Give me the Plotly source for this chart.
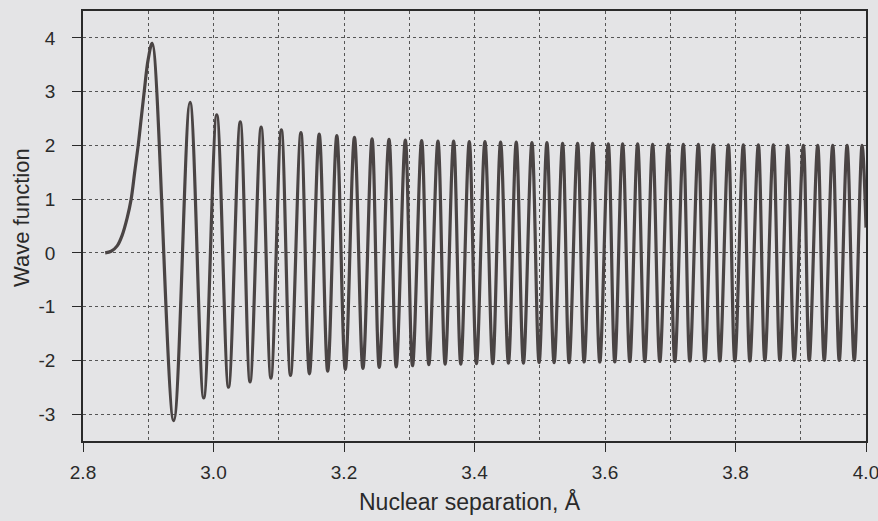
import plotly.graph_objects as go

# Initial rise of the wave function
rise_x = [2.834, 2.8432, 2.8524, 2.8601, 2.8677, 2.8738, 2.8792, 2.8846, 2.8892, 2.8938, 2.8999]
rise_y = [0.0, 0.03, 0.13, 0.33, 0.65, 1.0, 1.5, 2.0, 2.5, 3.0, 3.6]

# Maxima positions and values
peak_x = [2.906, 2.964, 3.005, 3.041, 3.073, 3.104, 3.134, 3.162, 3.189, 3.216,
          3.243, 3.269, 3.294, 3.319, 3.344, 3.368, 3.392, 3.416, 3.440, 3.464,
          3.488, 3.511, 3.535, 3.558, 3.581, 3.605, 3.627, 3.650, 3.673, 3.697,
          3.720, 3.743, 3.766, 3.789, 3.812, 3.835, 3.858, 3.880, 3.904, 3.926,
          3.949, 3.971, 3.994]
peak_y = [3.9, 2.8, 2.57, 2.44, 2.34, 2.29, 2.24, 2.21, 2.18, 2.15,
          2.12, 2.11, 2.10, 2.09, 2.08, 2.08, 2.07, 2.07, 2.06, 2.06,
          2.05, 2.05, 2.04, 2.04, 2.04, 2.03, 2.03, 2.03, 2.02, 2.02,
          2.02, 2.02, 2.01, 2.01, 2.01, 2.01, 2.01, 2.0, 2.0, 2.0,
          2.0, 2.0, 2.0]

# Minima positions and values
trough_x = [2.939, 2.985, 3.023, 3.056, 3.088, 3.118, 3.147, 3.175, 3.202, 3.229,
            3.254, 3.280, 3.305, 3.330, 3.355, 3.379, 3.403, 3.428, 3.452, 3.475,
            3.499, 3.522, 3.545, 3.568, 3.592, 3.615, 3.638, 3.661, 3.684, 3.707,
            3.730, 3.753, 3.776, 3.799, 3.822, 3.845, 3.868, 3.890, 3.913, 3.936,
            3.959, 3.982]
trough_y = [-3.12, -2.7, -2.50, -2.40, -2.33, -2.28, -2.25, -2.20, -2.17, -2.15,
            -2.13, -2.12, -2.10, -2.08, -2.07, -2.07, -2.06, -2.06, -2.05, -2.05,
            -2.04, -2.04, -2.04, -2.03, -2.03, -2.03, -2.02, -2.02, -2.02, -2.02,
            -2.01, -2.01, -2.01, -2.01, -2.01, -2.0, -2.0, -2.0, -2.0, -2.0,
            -2.0, -2.0]

end_x = [4.0]
end_y = [0.47]

x_ticks = [2.8, 3.0, 3.2, 3.4, 3.6, 3.8, 4.0]
x_tick_text = ["2.8", "3.0", "3.2", "3.4", "3.6", "3.8", "4.0"]
y_ticks = [-3, -2, -1, 0, 1, 2, 3, 4]
y_tick_text = ["-3", "-2", "-1", "0", "1", "2", "3", "4"]

xs = list(rise_x)
ys = list(rise_y)
for i, (px, py) in enumerate(zip(peak_x, peak_y)):
    xs.append(px)
    ys.append(py)
    if i < len(trough_x):
        xs.append(trough_x[i])
        ys.append(trough_y[i])
xs += end_x
ys += end_y

BG = "#e4e4e6"
INK = "#2a2a2a"
FONT = "Liberation Sans, Arial, sans-serif"

fig = go.Figure()
fig.add_trace(go.Scatter(
    x=xs, y=ys, mode="lines",
    line=dict(color="#4a4444", width=3.2, shape="spline", smoothing=1.0),
    showlegend=False, hoverinfo="skip",
))

grid = dict(showgrid=True, gridcolor="#555555", gridwidth=1, griddash="dot")

fig.update_layout(
    width=878, height=521,
    margin=dict(l=83, r=12, t=11, b=80),
    paper_bgcolor=BG, plot_bgcolor=BG,
    font=dict(family=FONT, color=INK, size=19),
    xaxis=dict(
        range=[2.8, 4.0], tickvals=x_ticks, ticktext=x_tick_text,
        ticks="outside", ticklen=9, tickwidth=1.3, tickcolor=INK,
        tickfont=dict(size=19, color=INK), ticklabeloverflow="allow",
        ticklabelstandoff=4,
        showline=True, linecolor=INK, linewidth=1.6, mirror=True,
        zeroline=False, automargin=False,
        minor=dict(dtick=0.1, tick0=2.8, showgrid=True, gridcolor="#555555",
                   gridwidth=1, griddash="dot", ticks=""),
        **grid,
    ),
    yaxis=dict(
        range=[-3.5, 4.5], tickvals=y_ticks, ticktext=y_tick_text,
        ticks="outside", ticklen=9, tickwidth=1.3, tickcolor=INK,
        tickfont=dict(size=19, color=INK), ticklabelstandoff=13,
        showline=True, linecolor=INK, linewidth=1.6, mirror=True,
        zeroline=False, automargin=False,
        **grid,
    ),
    annotations=[
        dict(text="Nuclear separation, Å", xref="x", yref="paper",
             x=3.393, y=0, yanchor="middle", xanchor="center", yshift=-60,
             showarrow=False, font=dict(size=23, color=INK)),
        dict(text="Wave function", xref="paper", yref="y",
             x=0, y=0.65, xanchor="center", yanchor="middle", xshift=-61,
             textangle=-90, showarrow=False, font=dict(size=22, color=INK)),
    ],
)

fig.write_html(
    "out.html",
    config={"displayModeBar": False},
    post_script="document.body.style.margin='0';document.body.style.overflow='hidden';",
)
